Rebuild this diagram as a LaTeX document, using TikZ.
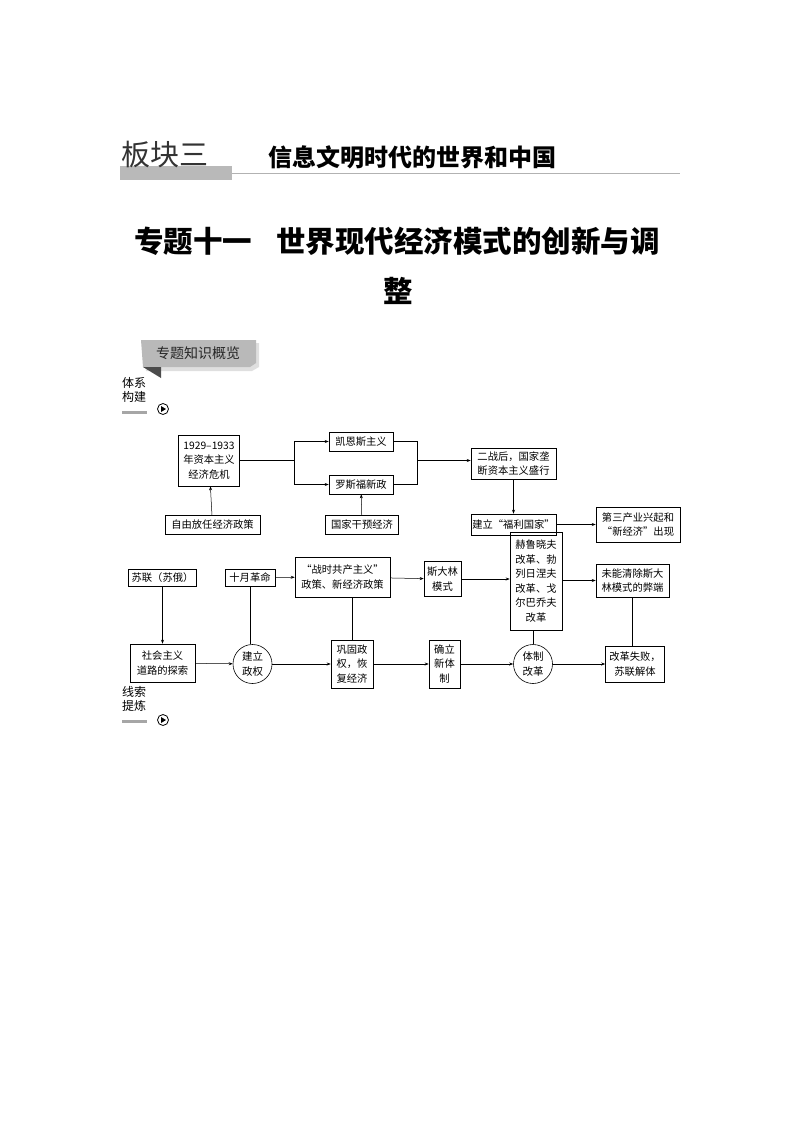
\documentclass[tikz,border=0pt]{standalone}
\usepackage{fontspec}
\setmainfont{Noto Sans CJK SC}
\usetikzlibrary{arrows.meta}
\tikzset{
 bx/.style={draw,line width=0.6pt,inner sep=0.5pt,align=center,font=\fontsize{10.3}{14.5}\selectfont},
 cir/.style={draw,circle,line width=0.6pt,inner sep=0pt,minimum size=39pt,align=center,font=\fontsize{10.5}{14.5}\selectfont},
 ar/.style={-{Stealth[length=4pt,width=3pt]},line width=0.5pt},
 ln/.style={line width=0.5pt}
}
\begin{document}
\begin{tikzpicture}[x=1pt,y=-1pt]
\useasboundingbox (0,0) rectangle (794,1123);
% header
\fill[gray!55] (120,166) rectangle (232,180);
\draw[gray!60,line width=0.8pt] (232,173) -- (680,173);
\node[font=\fontsize{29}{29}\selectfont,text=black!80,anchor=west,inner sep=0] (hb) at (121,155) {板块三};
\node[font=\fontsize{24}{24}\selectfont\bfseries,anchor=west,inner sep=0] (ht) at (268,157) {信息文明时代的世界和中国};
\node[font=\fontsize{29.5}{30}\selectfont\bfseries,anchor=west,inner sep=0] (t1) at (134,241) {专题十一\hspace{24pt}世界现代经济模式的创新与调};
\node[font=\fontsize{29.5}{30}\selectfont\bfseries,inner sep=0] (t2) at (398,291) {整};
% tag
\fill[gray!25] (144,343) -- (259,343) -- (259,367) -- (252,371) -- (146,371) -- cycle;
\fill[gray!55] (141,340) -- (256,340) -- (256,363) -- (250,367) -- (143,367) -- cycle;
\fill[black!70] (143,367) -- (161,367) -- (161,378) -- cycle;
\node[font=\fontsize{14}{14}\selectfont,text=black!85] (tag) at (198,353) {专题知识概览};
\node[font=\fontsize{12}{14.5}\selectfont,anchor=north west,inner sep=0,align=left] (s1) at (122,377) {体系\\构建};
\fill[gray!70] (122,411) rectangle (147,414);
\draw[line width=0.8pt] (163,409) circle (5.5);
\fill (161,406) -- (161,412) -- (166,409) -- cycle;
\node[font=\fontsize{12}{14.5}\selectfont,anchor=north west,inner sep=0,align=left] (s2) at (122,686) {线索\\提炼};
\fill[gray!70] (122,720) rectangle (147,723);
\draw[line width=0.8pt] (163,720) circle (5.5);
\fill (161,717) -- (161,723) -- (166,720) -- cycle;
% upper diagram
\node[bx,minimum width=61pt,minimum height=51pt] (A) at (209,460.5) {1929{\char"2013}1933\\年资本主义\\经济危机};
\node[bx,minimum width=95pt,minimum height=19pt] (B) at (212.5,525) {自由放任经济政策};
\node[bx,minimum width=64pt,minimum height=19pt] (C) at (361,441.5) {凯恩斯主义};
\node[bx,minimum width=64pt,minimum height=19pt] (D) at (361,484.5) {罗斯福新政};
\node[bx,minimum width=73pt,minimum height=19pt] (E) at (362,525) {国家干预经济};
\node[bx,minimum width=85pt,minimum height=31pt] (F) at (513.5,463.5) {二战后，国家垄\\断资本主义盛行};
\node[bx,minimum width=85pt,minimum height=21pt] (G) at (513.5,524.5) {建立“福利国家”};
\node[bx,minimum width=84pt,minimum height=35pt] (H) at (638,524.5) {第三产业兴起和\\“新经济”出现};
\coordinate (j1) at (294,460.5);
\coordinate (j2) at (417,460.5);
\draw[ln] (A.east) -- (j1);
\draw[ar] (j1) |- (C.west);
\draw[ar] (j1) |- (D.west);
\draw[ln] (C.east) -| (j2);
\draw[ln] (D.east) -| (j2);
\draw[ar] (j2) -- (F.west|-j2);
\draw[ar] (B) -- (A);
\draw[ar] (E) -- (D);
\draw[ar] (F) -- (G);
\draw[ar] (G) -- (H);
% lower diagram
\node[bx,minimum width=68pt,minimum height=17pt] (S1) at (162.5,577.5) {苏联（苏俄）};
\node[bx,minimum width=50pt,minimum height=17pt] (S2) at (250,577.5) {十月革命};
\node[bx,minimum width=95pt,minimum height=40pt] (S3) at (342.5,577) {“战时共产主义”\\政策、新经济政策};
\node[bx,minimum width=37pt,minimum height=35pt] (S4) at (442.5,579) {斯大林\\模式};
\node[bx,minimum width=52pt,minimum height=98pt] (S5) at (536,581) {赫鲁晓夫\\改革、勃\\列日涅夫\\改革、戈\\尔巴乔夫\\改革};
\node[bx,minimum width=73pt,minimum height=33pt] (S6) at (632.5,580.5) {未能清除斯大\\林模式的弊端};
\node[bx,minimum width=65pt,minimum height=38pt] (L1) at (162.5,663) {社会主义\\道路的探索};
\node[cir] (L2) at (252.5,664) {建立\\政权};
\node[bx,minimum width=42pt,minimum height=48pt] (L3) at (352,664) {巩固政\\权，恢\\复经济};
\node[bx,minimum width=31pt,minimum height=48pt] (L4) at (444.5,664) {确立\\新体\\制};
\node[cir] (L5) at (533,664) {体制\\改革};
\node[bx,minimum width=59pt,minimum height=36pt] (L6) at (635,664) {改革失败，\\苏联解体};
\draw[ar] (S1) -- (L1);
\draw[ar] (S2) -- (S3);
\draw[ar] (S3) -- (S4);
\draw[ar] (S4) -- (S5.west|-S4);
\draw[ar] (S5.east|-S6) -- (S6);
\draw[ln] (S2.south) -- (L2.north-|S2.south);
\draw[ln] (S3.south-|L3.north) -- (L3.north);
\draw[ln] (S5.south-|L5.north) -- (L5.north);
\draw[ln] (S6.south) -- (L6.north-|S6.south);
\draw[ar] (L1) -- (L2);
\draw[ar] (L2) -- (L3);
\draw[ar] (L3) -- (L4);
\draw[ar] (L4) -- (L5);
\draw[ar] (L5) -- (L6);
\end{tikzpicture}
\end{document}
